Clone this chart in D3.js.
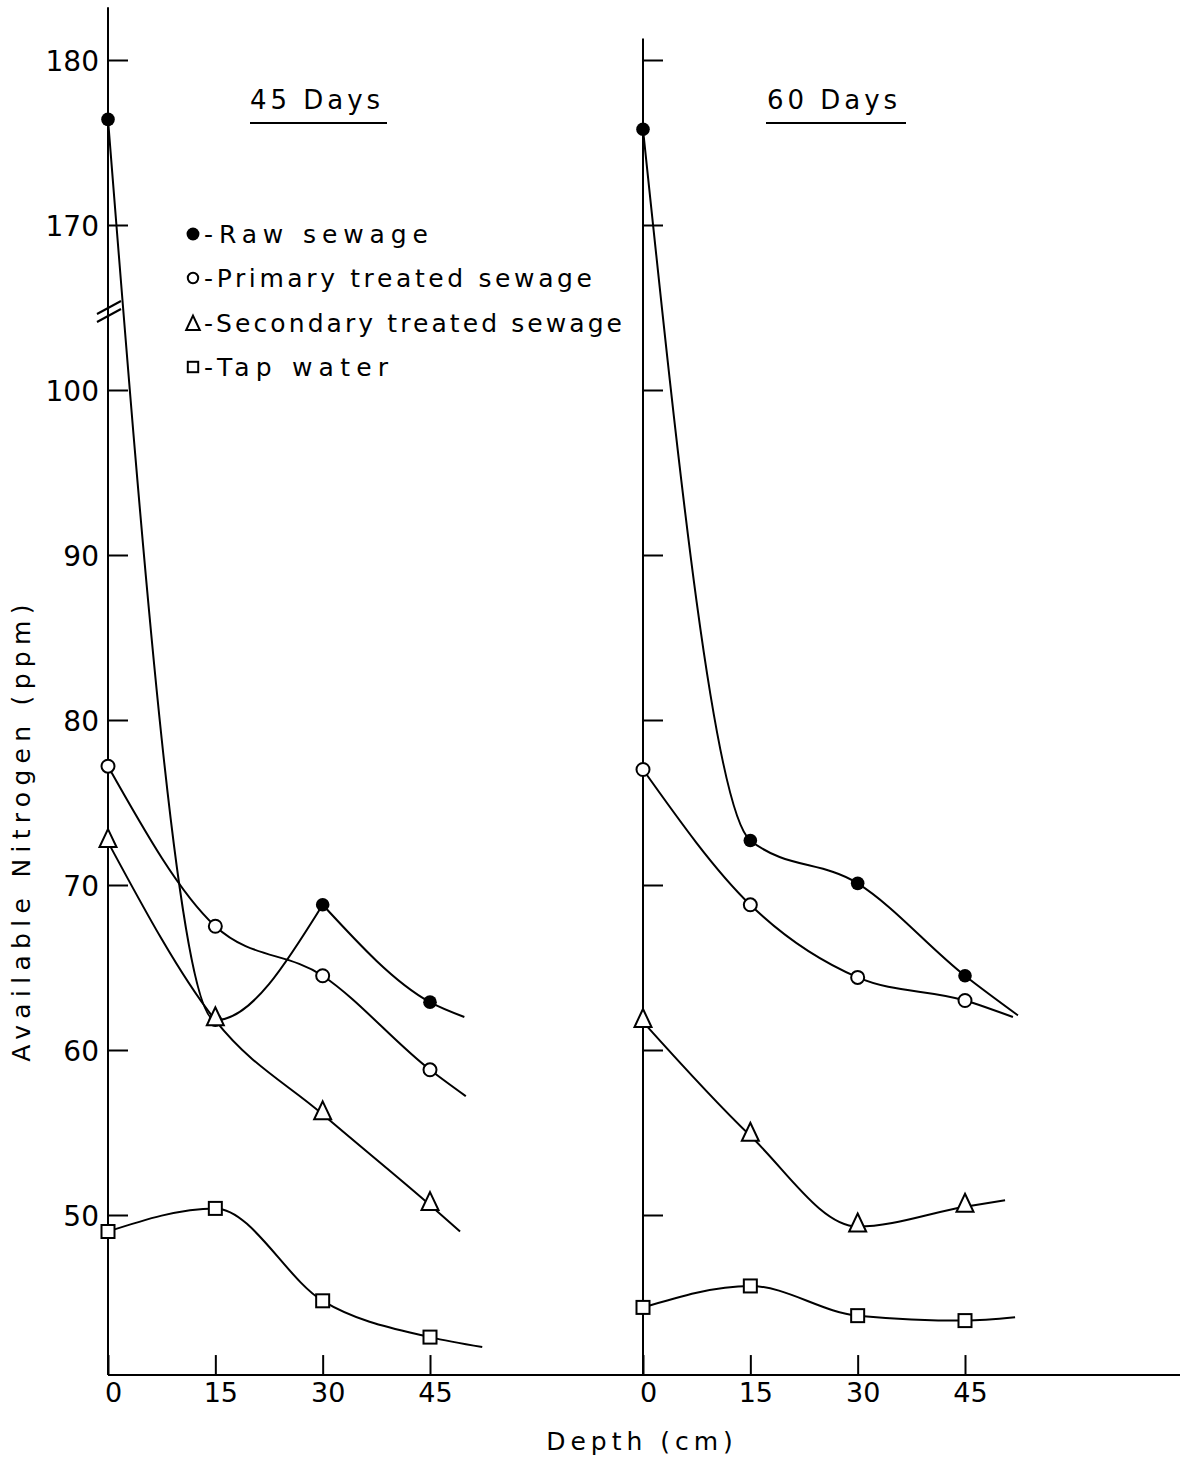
<!DOCTYPE html>
<html><head><meta charset="utf-8">
<script src="https://cdn.jsdelivr.net/npm/d3@7"></script>
<style>
body{margin:0;background:#fff}
text{font-family:"DejaVu Sans",sans-serif;fill:#000}
</style>
</head><body>
<svg id="chart" width="1190" height="1459"></svg>
<script>
// ---------- data ----------
const depths = [0, 15, 30, 45];
const xTickValues = [0, 15, 30, 45];
const yTicksLower = [50, 60, 70, 80, 90, 100];
const yTicksUpper = [170, 180];
const panelTitles = ["45 Days", "60 Days"];
const seriesNames = ["Raw sewage", "Primary treated sewage", "Secondary treated sewage", "Tap water"];

// 45 days
const raw45 = [176.4, 61.8, 68.8, 62.9];
const primary45 = [77.2, 67.5, 64.5, 58.8];
const secondary45 = [72.6, 61.8, 56.1, 50.6];
const tap45 = [49.0, 50.4, 44.8, 42.6];
// hand-drawn curve ends beyond 45 cm: [depth, value]
const raw45Tail = [49.8, 62.0];
const primary45Tail = [50.0, 57.2];
const secondary45Tail = [49.2, 49.0];
const tap45Tail = [52.3, 42.0];
const raw45Corners = [2]; // sharp corner at 30 cm

// 60 days
const raw60 = [175.8, 72.7, 70.1, 64.5];
const primary60 = [77.0, 68.8, 64.4, 63.0];
const secondary60 = [61.7, 54.8, 49.3, 50.5];
const tap60 = [44.4, 45.7, 43.9, 43.6];
const raw60Tail = [52.4, 62.1];
const primary60Tail = [51.7, 62.0];
const secondary60Tail = [50.6, 50.9];
const tap60Tail = [52.0, 43.8];

// ---------- layout ----------
const legendY = [234, 278, 323, 367];
const legendTextLen = [224, 388, 418, 184];
const legendM = ["dot", "circle", "tri", "sq"];

// ---------- scales ----------
const svg = d3.select("#chart");
const yUp = d3.scaleLinear().domain([170, 180]).range([225, 60]);
const yLo = d3.scaleLinear().domain([50, 100]).range([1215, 390]);
const y = v => (v >= 120 ? yUp(v) : yLo(v));
const xL = d3.scaleLinear().domain([0, 45]).range([108, 430]);
const xR = d3.scaleLinear().domain([0, 45]).range([643, 965]);
const yBase = yLo(40.3);

const panels = [
  {x: xL, title: panelTitles[0], top: 183.2, labels: true, titleX: 317, ulx: [250, 387],
   series: [
     {vals: raw45, tail: raw45Tail, corners: raw45Corners, m: "dot"},
     {vals: primary45, tail: primary45Tail, corners: [], m: "circle"},
     {vals: secondary45, tail: secondary45Tail, corners: [], m: "tri"},
     {vals: tap45, tail: tap45Tail, corners: [], m: "sq"}]},
  {x: xR, title: panelTitles[1], top: 181.3, labels: false, titleX: 834, ulx: [766, 906],
   series: [
     {vals: raw60, tail: raw60Tail, corners: [], m: "dot"},
     {vals: primary60, tail: primary60Tail, corners: [], m: "circle"},
     {vals: secondary60, tail: secondary60Tail, corners: [], m: "tri"},
     {vals: tap60, tail: tap60Tail, corners: [], m: "sq"}]}
];

function drawMarker(g, type, cx, cy, scale) {
  const s = scale || 1;
  if (type === "dot") {
    g.append("circle").attr("cx", cx).attr("cy", cy).attr("r", 6.8 * s).attr("fill", "#000");
  } else if (type === "circle") {
    g.append("circle").attr("cx", cx).attr("cy", cy).attr("r", 6.5 * s)
      .attr("fill", "#fff").attr("stroke", "#000").attr("stroke-width", 2);
  } else if (type === "tri") {
    const w = 8.5 * s, hTop = 13 * s, hBot = 5 * s;
    g.append("path").attr("d", `M${cx},${cy - hTop}L${cx + w},${cy + hBot}L${cx - w},${cy + hBot}Z`)
      .attr("fill", "#fff").attr("stroke", "#000").attr("stroke-width", 2).attr("stroke-linejoin", "miter");
  } else {
    const h = 6.5 * s;
    g.append("rect").attr("x", cx - h).attr("y", cy - h).attr("width", 2 * h).attr("height", 2 * h)
      .attr("fill", "#fff").attr("stroke", "#000").attr("stroke-width", 2);
  }
}

// ---------- axes ----------
panels.forEach(p => {
  const x0 = p.x(0);
  svg.append("line").attr("x1", x0).attr("x2", x0).attr("y1", yUp(p.top)).attr("y2", yBase)
    .attr("stroke", "#000").attr("stroke-width", 2);
  [[yLo, yTicksLower], [yUp, yTicksUpper]].forEach(([sc, tv]) => {
    const ax = d3.axisLeft(sc).tickValues(tv).tickSize(-20).tickPadding(9);
    if (!p.labels) ax.tickFormat("");
    const g = svg.append("g").attr("transform", `translate(${x0},0)`).call(ax);
    g.select(".domain").remove();
    g.selectAll("line").attr("stroke-width", 2);
    g.selectAll("text").attr("font-family", "DejaVu Sans").attr("font-size", 28).attr("dy", "0.36em");
  });
  const xa = d3.axisBottom(p.x).tickValues(xTickValues).tickSize(-20).tickPadding(8);
  const gx = svg.append("g").attr("transform", `translate(0,${yBase})`).call(xa);
  gx.select(".domain").remove();
  gx.selectAll("line").attr("stroke-width", 2);
  gx.selectAll("text").attr("font-family", "DejaVu Sans").attr("font-size", 27).attr("dx", 5);

  // panel title
  svg.append("text").attr("x", p.titleX).attr("y", 109).attr("text-anchor", "middle")
    .attr("font-size", 26).attr("letter-spacing", 4).text(p.title);
  svg.append("line").attr("x1", p.ulx[0]).attr("x2", p.ulx[1]).attr("y1", 123).attr("y2", 123)
    .attr("stroke", "#000").attr("stroke-width", 2);
});
// x axis baseline
svg.append("line").attr("x1", xL(0)).attr("x2", 1180).attr("y1", yBase).attr("y2", yBase)
  .attr("stroke", "#000").attr("stroke-width", 2);

// axis break marks
[0, 8].forEach(off => {
  svg.append("line").attr("x1", 97).attr("y1", 322 - off).attr("x2", 121).attr("y2", 309 - off)
    .attr("stroke", "#000").attr("stroke-width", 2);
});

// ---------- series ----------
panels.forEach(p => {
  const line = d3.line().x(d => p.x(d[0])).y(d => y(d[1])).curve(d3.curveMonotoneX);
  p.series.forEach(s => {
    const pts = depths.map((d, i) => [d, s.vals[i]]).concat([s.tail]);
    const cuts = [0].concat(s.corners, [pts.length - 1]);
    for (let k = 0; k < cuts.length - 1; k++) {
      svg.append("path").datum(pts.slice(cuts[k], cuts[k + 1] + 1)).attr("d", line)
        .attr("fill", "none").attr("stroke", "#000").attr("stroke-width", 2);
    }
  });
  p.series.forEach(s => {
    const g = svg.append("g");
    depths.forEach((d, i) => drawMarker(g, s.m, p.x(d), y(s.vals[i])));
  });
});

// ---------- legend ----------
seriesNames.forEach((n, i) => {
  const g = svg.append("g");
  drawMarker(g, legendM[i], 193, legendY[i] + (legendM[i] === "tri" ? 3 : 0), i === 0 ? 0.95 : 0.8);
  g.append("text").attr("x", 204).attr("y", legendY[i]).attr("dy", "0.36em")
    .attr("font-size", 25).attr("textLength", legendTextLen[i]).attr("lengthAdjust", "spacing")
    .text("-" + n);
});

// ---------- axis titles ----------
svg.append("text").attr("transform", "translate(30,830) rotate(-90)").attr("text-anchor", "middle")
  .attr("font-size", 25).attr("letter-spacing", 6.3).text("Available Nitrogen (ppm)");
svg.append("text").attr("x", 642).attr("y", 1450).attr("text-anchor", "middle")
  .attr("font-size", 25).attr("letter-spacing", 5).text("Depth (cm)");
</script>
</body></html>
